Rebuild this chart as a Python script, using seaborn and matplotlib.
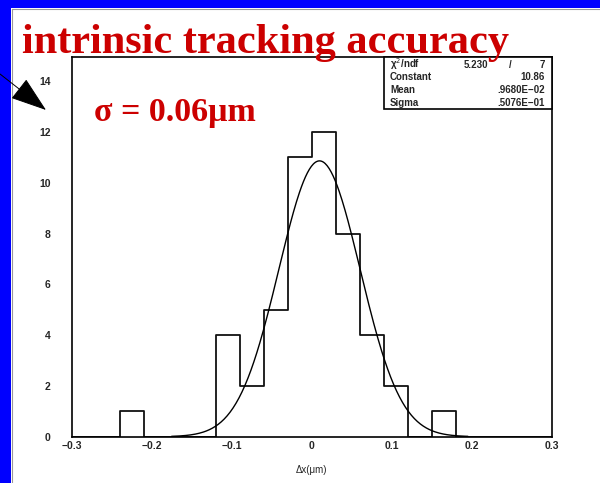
import numpy as np
import pandas as pd
import matplotlib
matplotlib.use("Agg")
import matplotlib.pyplot as plt
import seaborn as sns
from matplotlib.patches import Rectangle, FancyArrowPatch
from matplotlib.lines import Line2D
from matplotlib.ticker import MultipleLocator

# histogram contents (20 bins of 0.03 from -0.3 to 0.3)
bin_centers = [-0.285, -0.255, -0.225, -0.195, -0.165, -0.135, -0.105, -0.075, -0.045, -0.015,
               0.015, 0.045, 0.075, 0.105, 0.135, 0.165, 0.195, 0.225, 0.255, 0.285]
counts = [0, 0, 1, 0, 0, 0, 4, 2, 5, 11, 12, 8, 4, 2, 0, 1, 0, 0, 0, 0]

# gaussian fit parameters shown in the stat box
fit_const = 10.86
fit_mean = 0.00968
fit_sigma = 0.05076
fit_range = (-0.175, 0.195)

stat_names = ["Constant", "Mean", "Sigma"]
stat_values = ["10.86", ".9680E\u221202", ".5076E\u221201"]

df = pd.DataFrame({"dx": bin_centers, "n": counts})

sns.set_style("white")
plt.rcParams["font.family"] = ["Liberation Sans", "DejaVu Sans"]

W, H = 600, 483
fig = plt.figure(figsize=(W / 100, H / 100), dpi=100)
fig.patch.set_facecolor("white")

def px(x, y):
    return x / W, 1 - y / H

ax = fig.add_axes([71.5 / W, (H - 436.7) / H, (552 - 71.5) / W, (436.7 - 57) / H])

sns.histplot(data=df, x="dx", weights="n", bins=20, binrange=(-0.3, 0.3), element="step",
             fill=False, color="#111111", linewidth=1.3, ax=ax)

xs = np.linspace(fit_range[0], fit_range[1], 300)
ys = fit_const * np.exp(-0.5 * ((xs - fit_mean) / fit_sigma) ** 2)
sns.lineplot(x=xs, y=ys, color="black", linewidth=1.0, ax=ax)

ax.set_xlim(-0.3, 0.3)
ax.set_ylim(0, 14.95)
ax.set_ylabel("")
ax.set_xlabel("\u0394x(\u03bcm)", fontsize=7, labelpad=10)
ax.xaxis.set_major_locator(MultipleLocator(0.1))
ax.xaxis.set_minor_locator(MultipleLocator(0.02))
ax.yaxis.set_major_locator(MultipleLocator(2))
ax.yaxis.set_minor_locator(MultipleLocator(0.5))
ax.xaxis.set_major_formatter(plt.FuncFormatter(lambda v, p: "0" if abs(v) < 1e-9 else ("%.1f" % v).replace("-", "\u2212")))
ax.tick_params(axis="both", which="both", direction="in", top=False, right=False,
               color="black", width=1.0)
ax.tick_params(axis="both", which="major", length=7, labelsize=7.5)
ax.tick_params(axis="both", which="minor", length=4)
ax.tick_params(axis="x", which="major", pad=3)
ax.tick_params(axis="y", which="major", pad=15)
for lab in ax.get_xticklabels() + ax.get_yticklabels():
    lab.set_fontweight("bold")
for s in ax.spines.values():
    s.set_color("black")
    s.set_linewidth(1.2)
    s.set_visible(True)

# blue slide border and thin frame
fig.add_artist(Rectangle((0, 1 - 8 / H), 1, 8 / H, transform=fig.transFigure,
                         facecolor="#0000ff", edgecolor="none"))
fig.add_artist(Rectangle((0, 0), 11 / W, 1, transform=fig.transFigure,
                         facecolor="#0000ff", edgecolor="none"))
fig.add_artist(Line2D([11.8 / W, 11.8 / W], [0, 1 - 8.5 / H], transform=fig.transFigure,
                      color="#999999", lw=0.8))
fig.add_artist(Line2D([11.8 / W, 1], [1 - 8.8 / H, 1 - 8.8 / H], transform=fig.transFigure,
                      color="#999999", lw=0.8))

# stat box
x0, y0 = px(384, 109)
x1, y1 = px(552, 57)
fig.add_artist(Rectangle((x0, y0), x1 - x0, y1 - y0, transform=fig.transFigure,
                         facecolor="white", edgecolor="black", lw=1.2, zorder=5))
row_y = [64.5, 77, 90, 102.5]
fig.text(*px(390, row_y[0]), "\u03c7$^2$/ndf", fontsize=7, fontweight="bold", va="center", zorder=6)
fig.text(*px(488, row_y[0]), "5.230", fontsize=7, fontweight="bold", va="center", ha="right", zorder=6)
fig.text(*px(510, row_y[0]), "/", fontsize=7, fontweight="bold", va="center", ha="center", zorder=6)
fig.text(*px(545, row_y[0]), "7", fontsize=7, fontweight="bold", va="center", ha="right", zorder=6)
for name, val, yy in zip(stat_names, stat_values, row_y[1:]):
    fig.text(*px(390, yy), name, fontsize=7, fontweight="bold", va="center", zorder=6)
    fig.text(*px(545, yy), val, fontsize=7, fontweight="bold", va="center", ha="right", zorder=6)

# red annotations
fig.text(*px(22, 53), "intrinsic tracking accuracy", fontsize=30.5, fontweight="bold",
         family="Liberation Serif", color="#cc0000", va="baseline", zorder=7)
fig.text(*px(94, 121), "\u03c3 = 0.06\u03bcm", fontsize=24.5, fontweight="bold",
         family="Liberation Serif", color="#cc0000", va="baseline", zorder=7)

# arrow from the upper left, drawn over the blue border
arrow = FancyArrowPatch(px(0, 74), px(46, 110), transform=fig.transFigure,
                        arrowstyle="-|>,head_length=1.55,head_width=0.53",
                        mutation_scale=15, color="black", lw=0.7,
                        shrinkA=0, shrinkB=0, zorder=8)
fig.add_artist(arrow)

fig.savefig("out.png", dpi=100)
